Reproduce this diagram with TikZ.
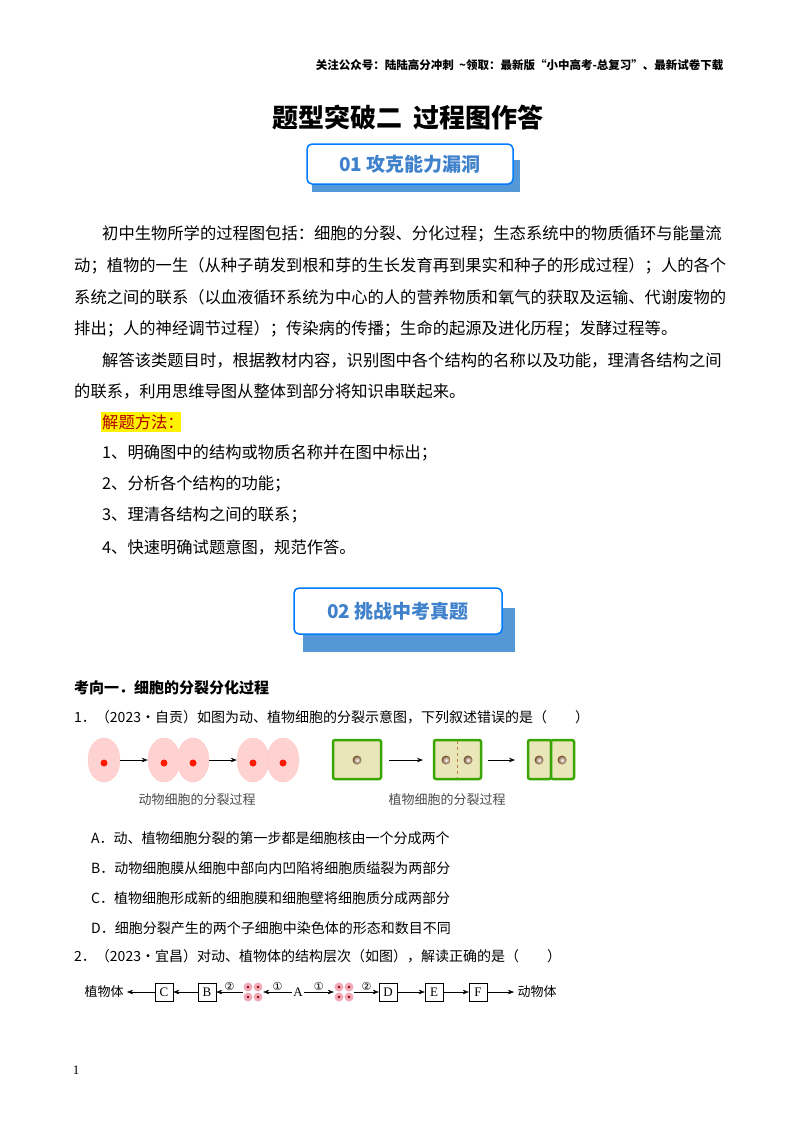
\documentclass[tikz,border=0pt]{standalone}
\usepackage{fontspec}
\setmainfont{Liberation Serif}
\newfontfamily\cjk{Noto Sans CJK SC}
\newfontfamily\djvfont{DejaVu Sans}
\usetikzlibrary{arrows.meta,shadows,shapes.geometric}
\begin{document}
\begin{tikzpicture}[x=1pt,y=-1pt,
 body/.style={anchor=west,inner sep=0,font=\cjk\fontsize{16.3}{18}\selectfont},
 opt/.style={anchor=west,inner sep=0,font=\cjk\fontsize{14}{16}\selectfont},
 banner/.style={draw=blue!20!cyan!60!blue,line width=1.5pt,rounded corners=5pt,fill=white,text=cyan!50!blue!80,font=\cjk\bfseries\fontsize{19}{22}\selectfont},
 acell/.style={ellipse,fill=pink!70,draw=pink!60!red!40,minimum width=32,minimum height=44,inner sep=0},
 nuc/.style={circle,fill=red!80!orange,minimum size=7,inner sep=0},
 pcell/.style={draw=green!50!black!70!lime,line width=2.5pt,fill=olive!20!white,rounded corners=2pt},
 pn/.style={circle,shade,inner color=white,outer color=brown!60!black,minimum size=9,inner sep=0},
 fbox/.style={draw,minimum width=18,minimum height=18,inner sep=0,font=\fontsize{13}{14}\selectfont},
 ar/.style={-{Stealth[length=6pt]},thick},
 sar/.style={-{Stealth[length=6pt]}},
 cn/.style={above,inner sep=1,font=\djvfont\fontsize{11}{12}\selectfont}]
\useasboundingbox (0,0) rectangle (800,1132);
\fill[white] (0,0) rectangle (800,1132);
\node[anchor=east,font=\cjk\bfseries\fontsize{11.5}{13}\selectfont] (hdr) at (727,65) {关注公众号：陆陆高分冲刺\ \ \textasciitilde 领取：最新版“小中高考-总复习”、最新试卷下载};
\node[font=\cjk\bfseries\fontsize{26}{30}\selectfont] (title) at (408,118) {题型突破二\ \ 过程图作答};
% banner 1
\fill[cyan!60!blue!70] (312,160) rectangle (520,192);
\node[banner,minimum width=206,minimum height=40] (b1) at (410,164) {01 攻克能力漏洞};
\node[body] (l1) at (102,234) {初中生物所学的过程图包括：细胞的分裂、分化过程；生态系统中的物质循环与能量流};
\node[body] (l2) at (74,266) {动；植物的一生（从种子萌发到根和芽的生长发育再到果实和种子的形成过程）；人的各个};
\node[body] (l3) at (74,297) {系统之间的联系（以血液循环系统为中心的人的营养物质和氧气的获取及运输、代谢废物的};
\node[body] (l4) at (74,329) {排出；人的神经调节过程）；传染病的传播；生命的起源及进化历程；发酵过程等。};
\node[body] (l5) at (102,360) {解答该类题目时，根据教材内容，识别图中各个结构的名称以及功能，理清各结构之间};
\node[body] (l6) at (74,391) {的联系，利用思维导图从整体到部分将知识串联起来。};
\fill[yellow] (101,412) rectangle (181,432);
\node[body,text=red!70!black] (l7) at (102,422) {解题方法：};
\node[body] (m1) at (102,453) {1、明确图中的结构或物质名称并在图中标出；};
\node[body] (m2) at (102,484) {2、分析各个结构的功能；};
\node[body] (m3) at (102,515) {3、理清各结构之间的联系；};
\node[body] (m4) at (102,547) {4、快速明确试题意图，规范作答。};
% banner 2
\fill[cyan!60!blue!70] (303,608) rectangle (515,652);
\node[banner,minimum width=208,minimum height=46] (b2) at (398,611) {02 挑战中考真题};
\node[anchor=west,inner sep=0,font=\cjk\bfseries\fontsize{15}{17}\selectfont] (k1) at (74,688) {考向一．细胞的分裂分化过程};
\node[opt] (q1) at (74,717) {1．（2023•自贡）如图为动、植物细胞的分裂示意图，下列叙述错误的是（\qquad）};
% animal cells
\node[acell] (a1) at (104,760) {}; \node[nuc] at (104,763) {};
\node[acell] (a2) at (164,760) {}; \node[nuc] at (164,763) {};
\node[acell] (a3) at (193,760) {}; \node[nuc] at (193,763) {};
\node[acell] (a4) at (253,760) {}; \node[nuc] at (253,763) {};
\node[acell] (a5) at (283,760) {}; \node[nuc] at (283,763) {};
\draw[ar] (a1) -- (a2);
\draw[ar] (a3) -- (a4);
\node[font=\cjk\fontsize{13}{15}\selectfont,text=black!70] (capa) at (197,800) {动物细胞的分裂过程};
% plant cells
\draw[pcell] (333,740) rectangle (381,779); \node[pn] (p1) at (357,760) {};
\draw[pcell] (434,740) rectangle (481,779); \node[pn] at (446,760) {}; \node[pn] at (468,760) {};
\draw[brown,dashed,thick] (457,741) -- (457,778);
\draw[pcell] (528,740) rectangle (551,779); \draw[pcell] (551,740) rectangle (574,779);
\node[pn] at (539,760) {}; \node[pn] at (562,760) {};
\coordinate (pa1) at (389,760); \coordinate (pb1) at (423,760);
\coordinate (pa2) at (488,760); \coordinate (pb2) at (515,760);
\draw[ar] (pa1) -- (pb1); \draw[ar] (pa2) -- (pb2);
\node[font=\cjk\fontsize{13}{15}\selectfont,text=black!70] (capp) at (447,800) {植物细胞的分裂过程};
\node[opt] (oa) at (91,838) {A．动、植物细胞分裂的第一步都是细胞核由一个分成两个};
\node[opt] (ob) at (91,868) {B．动物细胞膜从细胞中部向内凹陷将细胞质缢裂为两部分};
\node[opt] (oc) at (91,898) {C．植物细胞形成新的细胞膜和细胞壁将细胞质分成两部分};
\node[opt] (od) at (91,928) {D．细胞分裂产生的两个子细胞中染色体的形态和数目不同};
\node[opt] (q2) at (74,956) {2．（2023•宜昌）对动、植物体的结构层次（如图），解读正确的是（\qquad）};
% flow
\node[font=\cjk\fontsize{13}{15}\selectfont] (zw) at (104,992) {植物体};
\node[fbox] (C) at (164,992) {C};
\node[fbox] (B) at (207,992) {B};
\node[minimum size=20,inner sep=0] (g1) at (253,992) {};
\foreach \dx/\dy in {-5/-5,5/-5,-5/5,5/5}{\fill[pink!60!purple!60] (253+\dx,992+\dy) circle (4.5); \fill[red!60!black] (253+\dx,992+\dy) circle (1.3);}
\node[inner sep=1,font=\fontsize{13}{14}\selectfont] (A) at (298,992) {A};
\node[minimum size=20,inner sep=0] (g2) at (344,992) {};
\foreach \dx/\dy in {-5/-5,5/-5,-5/5,5/5}{\fill[pink!60!purple!60] (344+\dx,992+\dy) circle (4.5); \fill[red!60!black] (344+\dx,992+\dy) circle (1.3);}
\node[fbox] (D) at (388,992) {D};
\node[fbox] (E) at (434,992) {E};
\node[fbox] (F) at (478,992) {F};
\node[font=\cjk\fontsize{13}{15}\selectfont] (dw) at (537,992) {动物体};
\draw[sar] (C) -- (zw);
\draw[sar] (B) -- (C);
\draw[sar] (g1) -- node[cn]{②} (B);
\draw[sar] (A) -- node[cn]{①} (g1);
\draw[sar] (A) -- node[cn]{①} (g2);
\draw[sar] (g2) -- node[cn]{②} (D);
\draw[sar] (D) -- (E);
\draw[sar] (E) -- (F);
\draw[sar] (F) -- (dw);
\node[font=\fontsize{13}{14}\selectfont] (pg) at (76,1070) {1};
\end{tikzpicture}
\end{document}
